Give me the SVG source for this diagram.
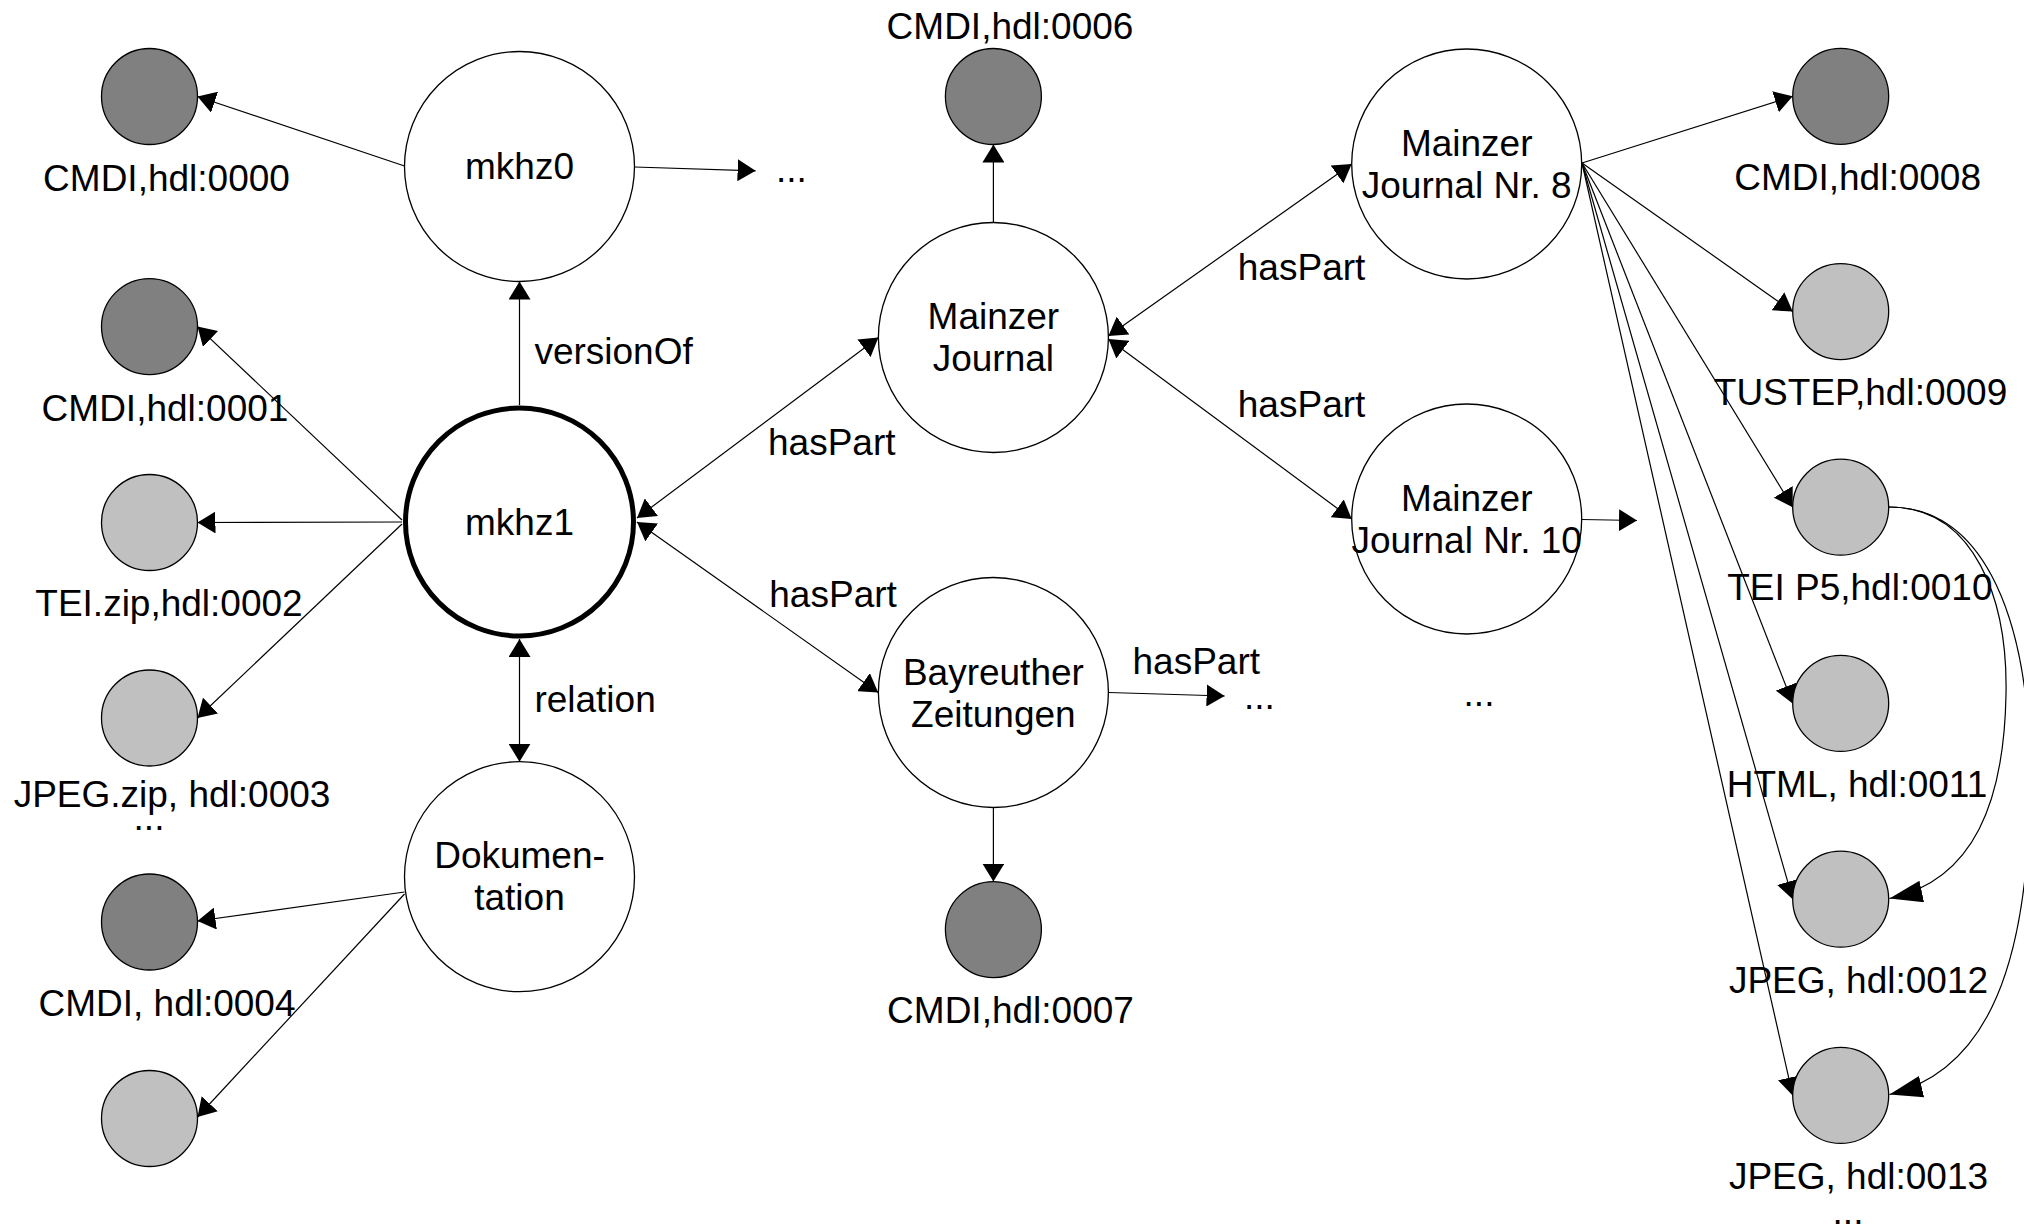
<svg xmlns="http://www.w3.org/2000/svg" width="2024" height="1228" viewBox="0 0 2024 1228">
<defs>
<style>
text{font-family:"Liberation Sans",Arial,sans-serif;font-size:37px;fill:#000}
.m{text-anchor:middle}
.big{fill:#fff;stroke:#000;stroke-width:1.3}
.main{fill:#fff;stroke:#000;stroke-width:5}
.dark{fill:#808080;stroke:#000;stroke-width:1.3}
.light{fill:#c0c0c0;stroke:#000;stroke-width:1.3}
.e{fill:none;stroke:#000;stroke-width:1.2;marker-end:url(#ah)}
.b{marker-start:url(#ah)}
.c{fill:none;stroke:#000;stroke-width:1.2;marker-end:url(#ahL)}
</style>
<marker id="ah" markerUnits="userSpaceOnUse" viewBox="0 0 18 22" markerWidth="18" markerHeight="22" refX="18" refY="11" orient="auto-start-reverse"><path d="M0,0 L18,11 L0,22 z" fill="#000"/></marker>
<marker id="ahL" markerUnits="userSpaceOnUse" viewBox="0 0 33 22" markerWidth="33" markerHeight="22" refX="33" refY="11" orient="auto"><path d="M0,0 L33,11 L0,22 z" fill="#000"/></marker>
</defs>
<rect width="2024" height="1228" fill="#fff"/>
<g id="connectors">
<path class="e" d="M519.5,405 L519.5,281.5"/>
<path class="e b" d="M519.5,639 L519.5,761.8"/>
<path class="e" d="M404.5,166 L197.5,96.5"/>
<path class="e" d="M402,520 L197.5,326.6"/>
<path class="e" d="M402,522 L197.5,522.5"/>
<path class="e" d="M402,524 L197.5,718"/>
<path class="e" d="M404.5,892 L197.5,921"/>
<path class="e" d="M404.5,894 L197.5,1117"/>
<path class="e" d="M634.5,167 L755.6,170.8"/>
<path class="e b" d="M637,518 L878.4,337.5"/>
<path class="e b" d="M637,522 L878.2,692.5"/>
<path class="e" d="M993.4,222.5 L993.4,144.5"/>
<path class="e" d="M993.4,807.5 L993.4,881.6"/>
<path class="e" d="M1108.6,692.5 L1224.6,696"/>
<path class="e b" d="M1108.4,336 L1351.7,164"/>
<path class="e b" d="M1108.4,339 L1351.7,519"/>
<path class="e" d="M1581.7,519.5 L1637,520.5"/>
<path class="e" d="M1582,163 L1792.7,96.3"/>
<path class="e" d="M1582,163 L1792.7,311.6"/>
<path class="e" d="M1582,163 L1792.7,507.2"/>
<path class="e" d="M1582,163 L1792.7,703.4"/>
<path class="e" d="M1582,163 L1792.7,899.2"/>
<path class="e" d="M1582,163 L1792.7,1095.4"/>
<path class="c" d="M1888.7,507 C1975,507 2008,600 2006,695 C2004,800 1975,880 1889.5,898.5"/>
<path class="c" d="M1888.7,507 C1985,507 2032,620 2030,790 C2028,960 1990,1070 1889.5,1094.5"/>
<text x="534.4" y="364">versionOf</text>
<text x="534.4" y="711.5">relation</text>
<text x="768" y="455">hasPart</text>
<text x="769.3" y="607">hasPart</text>
<text x="1237.8" y="280">hasPart</text>
<text x="1237.8" y="417">hasPart</text>
<text x="1132.5" y="674">hasPart</text>
<text x="776" y="182">...</text>
<text x="1244" y="709">...</text>
<text class="m" x="1479" y="706">...</text>
</g>
<g id="mkhz0"><circle class="big" cx="519.5" cy="166.5" r="115"/><text class="m" x="519.5" y="178.5">mkhz0</text></g>
<g id="mkhz1"><circle class="main" cx="519.5" cy="522" r="114"/><text class="m" x="519.5" y="534.5">mkhz1</text></g>
<g id="dokumentation"><circle class="big" cx="519.5" cy="876.7" r="115"/><text class="m" x="519.5" y="868">Dokumen-<tspan x="519.5" y="910">tation</tspan></text></g>
<g id="mainzer-journal"><circle class="big" cx="993.4" cy="337.5" r="115"/><text class="m" x="993.4" y="329">Mainzer<tspan x="993.4" y="371">Journal</tspan></text></g>
<g id="bayreuther"><circle class="big" cx="993.4" cy="692.5" r="115"/><text class="m" x="993.4" y="684.5">Bayreuther<tspan x="993.4" y="726.5">Zeitungen</tspan></text></g>
<g id="mj-nr8"><circle class="big" cx="1466.7" cy="164" r="115"/><text class="m" x="1466.7" y="156">Mainzer<tspan x="1466.7" y="197.5">Journal Nr. 8</tspan></text></g>
<g id="mj-nr10"><circle class="big" cx="1466.7" cy="519" r="115"/><text class="m" x="1466.7" y="511">Mainzer<tspan x="1466.7" y="552.5">Journal Nr. 10</tspan></text></g>
<g id="c0000"><circle class="dark" cx="149.5" cy="96.5" r="48"/><text class="m" x="166.5" y="190.5">CMDI,hdl:0000</text></g>
<g id="c0001"><circle class="dark" cx="149.5" cy="326.6" r="48"/><text class="m" x="165" y="420.5">CMDI,hdl:0001</text></g>
<g id="c0002"><circle class="light" cx="149.5" cy="522.5" r="48"/><text class="m" x="169" y="616">TEI.zip,hdl:0002</text></g>
<g id="c0003"><circle class="light" cx="149.5" cy="718" r="48"/><text class="m" x="172" y="807">JPEG.zip, hdl:0003<tspan x="149" y="830">...</tspan></text></g>
<g id="c0004"><circle class="dark" cx="149.5" cy="922" r="48"/><text class="m" x="167" y="1016">CMDI, hdl:0004</text></g>
<g id="c0005"><circle class="light" cx="149.5" cy="1118.5" r="48"/></g>
<g id="c0006"><circle class="dark" cx="993.4" cy="96.5" r="48"/><text class="m" x="1010" y="38.5">CMDI,hdl:0006</text></g>
<g id="c0007"><circle class="dark" cx="993.4" cy="929.6" r="48"/><text class="m" x="1010.5" y="1023">CMDI,hdl:0007</text></g>
<g id="c0008"><circle class="dark" cx="1840.7" cy="96.3" r="48"/><text class="m" x="1857.6" y="189.5">CMDI,hdl:0008</text></g>
<g id="c0009"><circle class="light" cx="1840.7" cy="311.6" r="48"/><text class="m" x="1860.5" y="405">TUSTEP,hdl:0009</text></g>
<g id="c0010"><circle class="light" cx="1840.7" cy="507.2" r="48"/><text class="m" x="1859.8" y="600.3">TEI P5,hdl:0010</text></g>
<g id="c0011"><circle class="light" cx="1840.7" cy="703.4" r="48"/><text class="m" x="1857" y="797">HTML, hdl:0011</text></g>
<g id="c0012"><circle class="light" cx="1840.7" cy="899.2" r="48"/><text class="m" x="1858.5" y="993">JPEG, hdl:0012</text></g>
<g id="c0013"><circle class="light" cx="1840.7" cy="1095.4" r="48"/><text class="m" x="1858.5" y="1188.5">JPEG, hdl:0013<tspan x="1848" y="1224">...</tspan></text></g>
</svg>
